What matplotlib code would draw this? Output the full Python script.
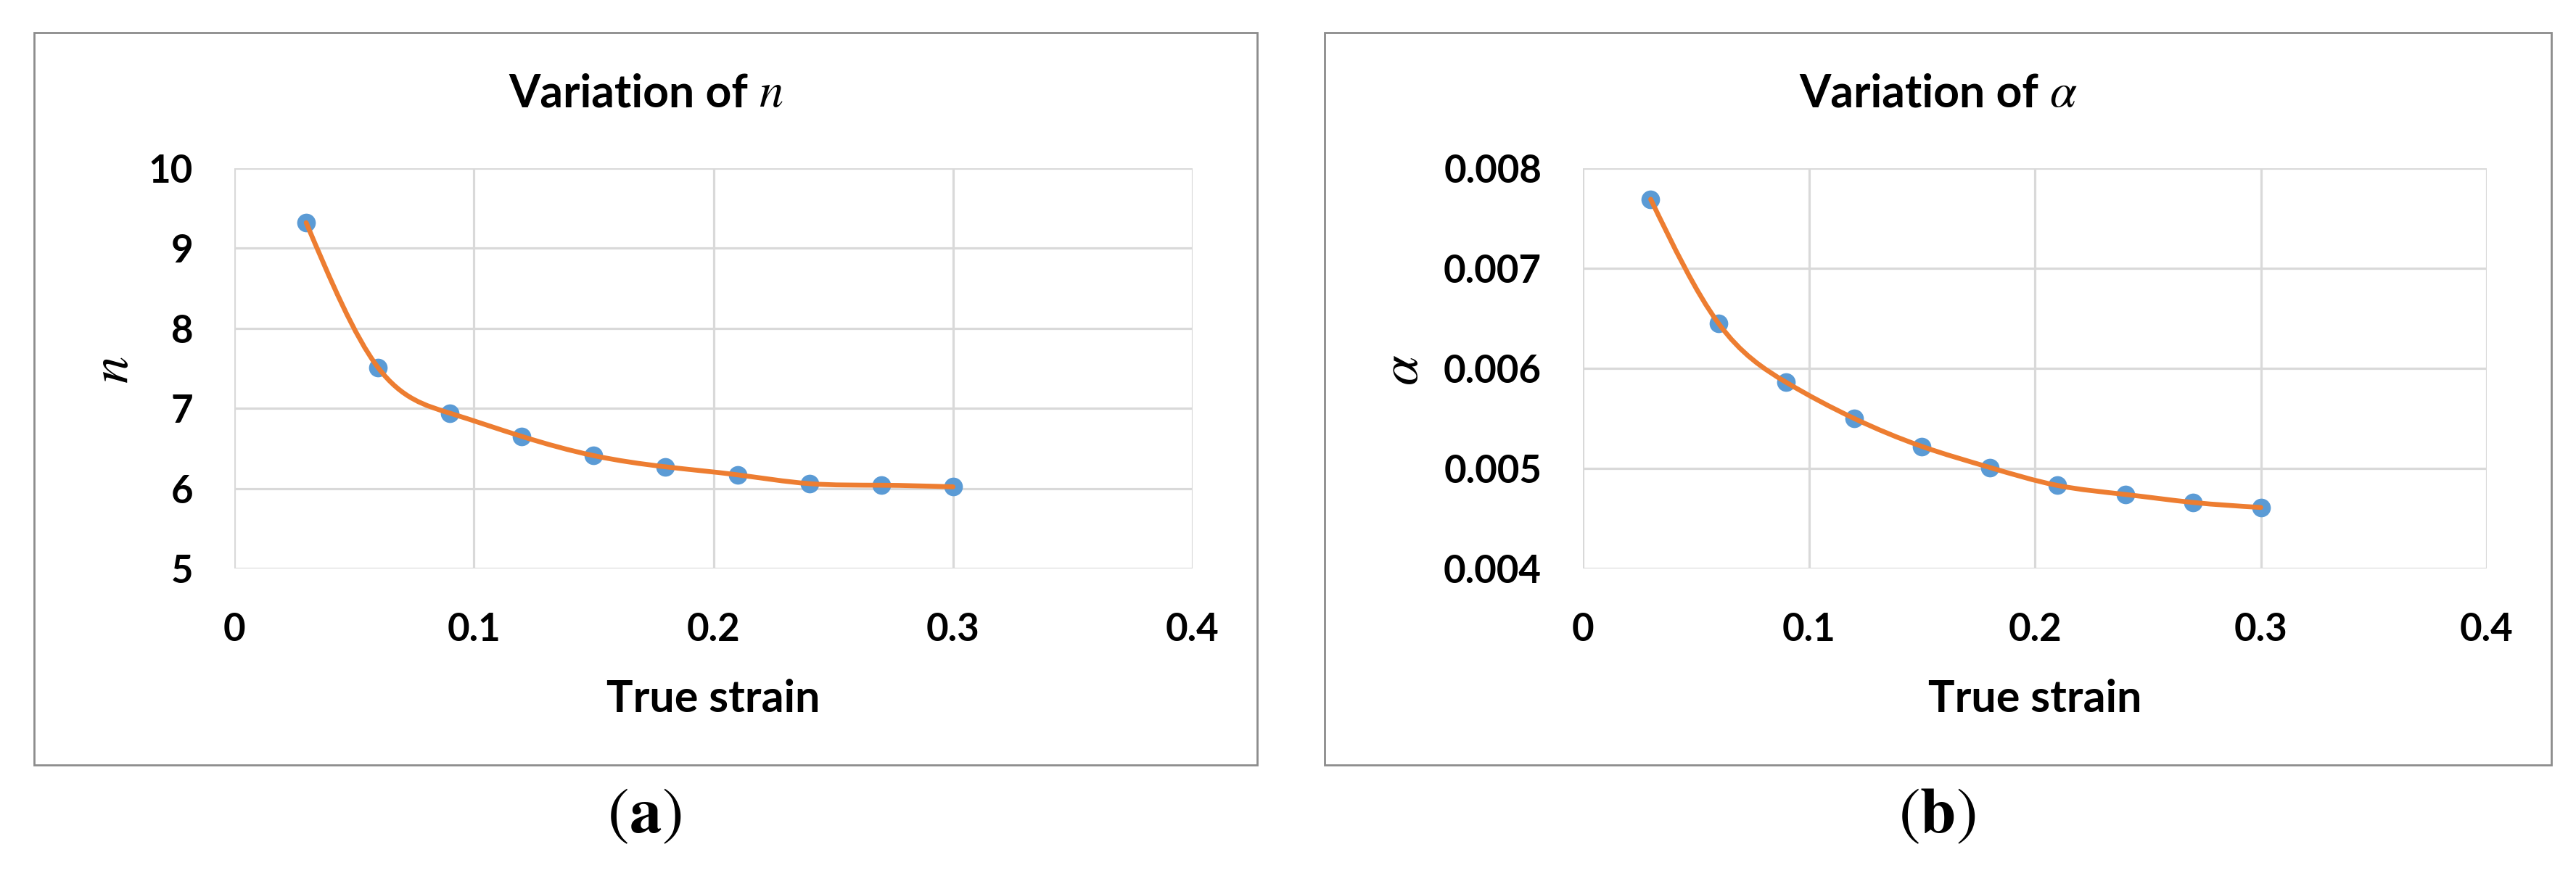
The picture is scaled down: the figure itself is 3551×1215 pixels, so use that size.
import numpy as np
import matplotlib
matplotlib.use("Agg")
import matplotlib.pyplot as plt
from matplotlib.path import Path
from matplotlib.patches import PathPatch, Rectangle

# ---------------- data ----------------
true_strain = [0.03, 0.06, 0.09, 0.12, 0.15, 0.18, 0.21, 0.24, 0.27, 0.30]
n_values = [9.32, 7.51, 6.94, 6.65, 6.41, 6.27, 6.17, 6.06, 6.04, 6.02]
alpha_values = [0.00769, 0.00645, 0.00586, 0.00550, 0.00522, 0.00501,
                0.00483, 0.00474, 0.00466, 0.00461]

x_ticks = [0, 0.1, 0.2, 0.3, 0.4]
x_tick_labels = ["0", "0.1", "0.2", "0.3", "0.4"]
n_ticks = [5, 6, 7, 8, 9, 10]
n_tick_labels = ["5", "6", "7", "8", "9", "10"]
alpha_ticks = [0.004, 0.005, 0.006, 0.007, 0.008]
alpha_tick_labels = ["0.004", "0.005", "0.006", "0.007", "0.008"]

title_text = "Variation of"
x_label = "True strain"
symbols = ["n", "\u03b1"]
caption_letters = ["a", "b"]

# ---------------- style ----------------
plt.rcParams["font.family"] = ["Lato", "DejaVu Sans"]
plt.rcParams["font.weight"] = "bold"

W, H = 3551, 1215
DPI = 100
fig = plt.figure(figsize=(W / DPI, H / DPI), dpi=DPI)

BLUE = "#5B9BD5"
ORANGE = "#ED7D31"
GRID = "#d9d9d9"
FRAME = "#8c8c8c"


def fx(px):
    return px / W


def fy(py):
    return 1 - py / H


def smooth_path(xs, ys):
    """Natural cubic spline through the points, expressed as a Bezier path."""
    x = np.asarray(xs, float)
    y = np.asarray(ys, float)
    n = len(x)
    h = np.diff(x)
    A = np.zeros((n, n))
    r = np.zeros(n)
    A[0, 0] = A[-1, -1] = 1.0
    for i in range(1, n - 1):
        A[i, i - 1] = h[i - 1]
        A[i, i] = 2 * (h[i - 1] + h[i])
        A[i, i + 1] = h[i]
        r[i] = 6 * ((y[i + 1] - y[i]) / h[i] - (y[i] - y[i - 1]) / h[i - 1])
    M = np.linalg.solve(A, r)
    m = np.zeros(n)
    for i in range(n - 1):
        m[i] = (y[i + 1] - y[i]) / h[i] - h[i] * (2 * M[i] + M[i + 1]) / 6
    m[-1] = (y[-1] - y[-2]) / h[-1] + h[-1] * (M[-2] + 2 * M[-1]) / 6
    verts = [(x[0], y[0])]
    codes = [Path.MOVETO]
    for i in range(n - 1):
        verts += [(x[i] + h[i] / 3, y[i] + m[i] * h[i] / 3),
                  (x[i + 1] - h[i] / 3, y[i + 1] - m[i + 1] * h[i] / 3),
                  (x[i + 1], y[i + 1])]
        codes += [Path.CURVE4] * 3
    return Path(np.array(verts), codes)


panels = [
    dict(frame=(47, 45, 1733, 1055), plot=(323, 232, 1644, 784),
         y=n_values, yticks=n_ticks, ylabels=n_tick_labels, ylim=(5, 10),
         ylab_x=157),
    dict(frame=(1826, 45, 3517, 1055), plot=(2182, 232, 3428, 784),
         y=alpha_values, yticks=alpha_ticks, ylabels=alpha_tick_labels,
         ylim=(0.004, 0.008), ylab_x=1934),
]

renderer = fig.canvas.get_renderer()


def place_row(parts, cx, baseline):
    """parts: list of (text, kwargs, gap_after). Centered row on baseline."""
    texts = []
    total = 0
    for s, kw, gap in parts:
        t = fig.text(0, fy(baseline), s, ha="left", va="baseline", **kw)
        w = t.get_window_extent(renderer).width
        texts.append((t, w, gap))
        total += w + gap
    total -= parts[-1][2]
    x = cx - total / 2
    for t, w, gap in texts:
        t.set_x(fx(x))
        x += w + gap


serif_reg = dict(family="STIXGeneral", fontweight="normal", fontsize=64)
serif_bold = dict(family="STIXGeneral", fontweight="bold", fontsize=64)

for k, p in enumerate(panels):
    fl, ft, fr, fb = p["frame"]
    fig.add_artist(Rectangle((fx(fl), fy(fb)), fx(fr - fl), (fb - ft) / H,
                             transform=fig.transFigure, fill=False,
                             edgecolor=FRAME, linewidth=2.0, zorder=0))
    pl, pt, pr, pb = p["plot"]
    ax = fig.add_axes([fx(pl), fy(pb), fx(pr - pl), (pb - pt) / H])
    ax.set_xlim(0, 0.4)
    ax.set_ylim(*p["ylim"])
    ax.set_xticks(x_ticks)
    ax.set_xticklabels(x_tick_labels)
    ax.set_yticks(p["yticks"])
    ax.set_yticklabels(p["ylabels"])
    for s in ax.spines.values():
        s.set_visible(False)
    ax.grid(True, color=GRID, linewidth=2.3)
    ax.set_axisbelow(True)
    ax.tick_params(axis="both", length=0, labelsize=38)
    ax.tick_params(axis="y", pad=41)
    ax.tick_params(axis="x", pad=43)
    for lab in ax.get_xticklabels() + ax.get_yticklabels():
        lab.set_fontweight("bold")

    ax.plot(true_strain, p["y"], linestyle="none", marker="o",
            markersize=18.5, color=BLUE, markeredgewidth=0, zorder=3,
            clip_on=False)
    ax.add_patch(PathPatch(smooth_path(true_strain, p["y"]), fill=False,
                           edgecolor=ORANGE, linewidth=4.8, zorder=4,
                           capstyle="round", joinstyle="round"))

    cx = (fl + fr) / 2
    # title: sans bold text + serif italic symbol
    place_row([(title_text, dict(fontsize=45, fontweight="bold"), 15),
               (symbols[k], dict(fontsize=48, family="STIXGeneral",
                                 style="italic", fontweight="normal"), 0)],
              cx, 147)

    # axis labels
    fig.text(fx((pl + pr) / 2), fy(982), x_label, fontsize=44,
             fontweight="bold", ha="center", va="baseline")
    fig.text(fx(p["ylab_x"]), fy((pt + pb) / 2), symbols[k], fontsize=54,
             family="STIXGeneral", style="italic", fontweight="normal",
             rotation=90, ha="center", va="center")

    # caption (a) / (b)
    place_row([("(", serif_reg, 0), (caption_letters[k], serif_bold, 0),
               (")", serif_reg, 0)], cx, 1148)

fig.savefig("out.png", dpi=DPI, facecolor="white")
